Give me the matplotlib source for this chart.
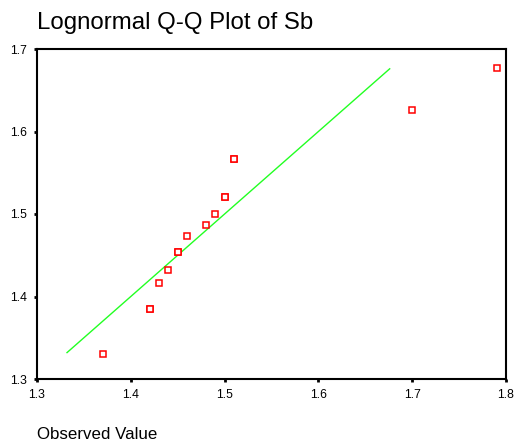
import matplotlib
matplotlib.use("Agg")
import matplotlib.pyplot as plt

plt.rcParams['font.family'] = ['Liberation Sans', 'DejaVu Sans']

# Observed Sb values and their expected lognormal quantiles (ties repeated)
observed = [1.37, 1.42, 1.42, 1.43, 1.44, 1.45, 1.45, 1.46, 1.48, 1.49,
            1.50, 1.50, 1.51, 1.51, 1.70, 1.79]
expected = [1.3307, 1.3848, 1.3848, 1.4160, 1.4320, 1.4543, 1.4543, 1.4733,
            1.4867, 1.5000, 1.5202, 1.5202, 1.5663, 1.5663, 1.6264, 1.6766]
# Reference line y = x
ref_line = [1.332, 1.676]

x_ticks = [1.3, 1.4, 1.5, 1.6, 1.7, 1.8]
y_ticks = [1.3, 1.4, 1.5, 1.6, 1.7]

W, H = 516, 441
fig = plt.figure(figsize=(W / 100, H / 100), dpi=100)
ax = fig.add_axes([37 / W, 1 - 379 / H, (506 - 37) / W, (379 - 49) / H])

ax.plot(ref_line, ref_line, color='#22ff22', lw=1.0, zorder=2)
ax.plot(observed, expected, ls='none', marker='s', ms=4.6,
        mfc='white', mec='#ff0000', mew=1.1, zorder=3)

ax.set_xlim(1.3, 1.8)
ax.set_ylim(1.3, 1.7)
ax.set_xticks(x_ticks)
ax.set_yticks(y_ticks)
ax.set_xticklabels([f"{v:.1f}" for v in x_ticks])
ax.set_yticklabels([f"{v:.1f}" for v in y_ticks])
ax.tick_params(direction='out', length=2, width=2, labelsize=8.8,
               color='black', pad=5)
for s in ax.spines.values():
    s.set_linewidth(1.5)
    s.set_color('black')

fig.text(37 / W, 1 - 29 / H, "Lognormal Q-Q Plot of Sb", fontsize=17.3,
         ha='left', va='baseline')
fig.text(37 / W, 1 - 439 / H, "Observed Value", fontsize=12.2,
         ha='left', va='baseline')

fig.savefig("out.png", dpi=100)
